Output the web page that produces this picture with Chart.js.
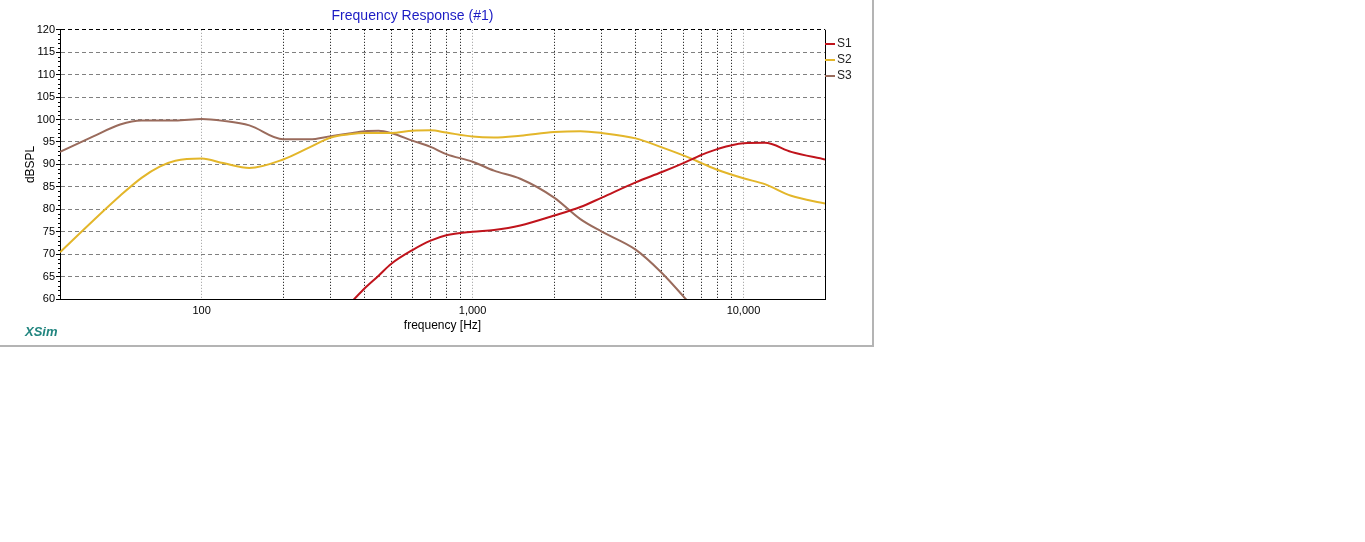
<!DOCTYPE html>
<html>
<head>
<meta charset="utf-8">
<title>Frequency Response (#1)</title>
<script src="https://cdn.jsdelivr.net/npm/chart.js@4.4.1/dist/chart.umd.min.js"></script>
<style>
  html, body { margin: 0; padding: 0; background: #fff; }
  #wrap {
    position: relative;
    width: 872px; height: 345px;
    border-right: 2px solid #b4b4b4;
    border-bottom: 2px solid #b4b4b4;
  }
</style>
</head>
<body>
<div id="wrap"><canvas id="fr"></canvas></div>
<script>
const freqs = [30, 40, 50, 60, 70, 80, 100, 120, 150, 200, 250, 300, 350, 400, 450, 500,
  600, 700, 800, 1000, 1200, 1500, 2000, 2500, 3000, 4000, 5000, 6000, 7000, 8000,
  10000, 12000, 15000, 20000];

// dB SPL per series (null = not drawn there)
const s1 = [null, null, null, null, null, null, null, null, null, null, null, 55.0, 58.8, 62.4, 65.2, 67.8,
  70.9, 73.0, 74.2, 75.0, 75.4, 76.4, 78.6, 80.5, 82.6, 86.0, 88.3, 90.3, 92.1, 93.4,
  94.7, 94.8, 92.8, 91.1];
const s2 = [70.4, 77.6, 83.0, 87.0, 89.5, 90.8, 91.3, 90.3, 89.2, 91.1, 93.8, 96.0, 96.7, 97.0, 97.0, 97.0,
  97.5, 97.6, 97.1, 96.2, 96.0, 96.4, 97.2, 97.4, 97.0, 95.8, 93.8, 92.0, 90.3, 88.8,
  86.9, 85.6, 83.0, 81.3];
const s3 = [92.8, 96.3, 98.9, 99.8, 99.8, 99.8, 100.1, 99.7, 98.7, 95.6, 95.6, 96.3, 96.9, 97.4, 97.5, 97.0,
  95.3, 93.9, 92.3, 90.6, 88.6, 86.8, 82.6, 77.8, 75.0, 71.0, 65.8, 60.6, 56.0, null,
  null, null, null, null];

const seriesNames = ["S1", "S2", "S3"];
const seriesColors = ["#c0141c", "#e3b62a", "#9a6b5c"];

// x grid lines and labels
const xGridTicks = [100, 200, 300, 400, 500, 600, 700, 800, 900, 1000,
  2000, 3000, 4000, 5000, 6000, 7000, 8000, 9000, 10000];
const xLabelTicks = [100, 1000, 10000];

const FONT = "'Liberation Sans', Arial, sans-serif";
Chart.defaults.font.family = FONT;
Chart.defaults.color = "#000";

function toPoints(vals) {
  return freqs.map((f, i) => ({ x: f, y: vals[i] }));
}

// legend on the right, minor y ticks, right border and the XSim mark
const extras = {
  id: "extras",
  afterDraw(chart) {
    const { ctx, chartArea } = chart;
    const yScale = chart.scales.y;
    ctx.save();

    ctx.strokeStyle = "#000";
    ctx.lineWidth = 1;
    ctx.beginPath();
    ctx.moveTo(chartArea.right + 0.5, chartArea.top);
    ctx.lineTo(chartArea.right + 0.5, chartArea.bottom);
    ctx.stroke();

    for (let v = 60; v <= 120; v++) {
      if (v % 5 === 0) continue;
      const y = Math.round(yScale.getPixelForValue(v)) + 0.5;
      ctx.beginPath();
      ctx.moveTo(chartArea.left - 2, y);
      ctx.lineTo(chartArea.left, y);
      ctx.stroke();
    }

    ctx.font = "12px " + FONT;
    ctx.textBaseline = "middle";
    ctx.textAlign = "left";
    chart.data.datasets.forEach((ds, i) => {
      const y = 44 + i * 16;
      ctx.strokeStyle = ds.borderColor;
      ctx.lineWidth = 2;
      ctx.beginPath();
      ctx.moveTo(chartArea.right, y);
      ctx.lineTo(chartArea.right + 10, y);
      ctx.stroke();
      ctx.fillStyle = "#222";
      ctx.fillText(ds.label, chartArea.right + 12, y);
    });

    ctx.font = "bold italic 13px " + FONT;
    ctx.fillStyle = "#21857f";
    ctx.textBaseline = "alphabetic";
    ctx.fillText("XSim", 25, 336);
    ctx.restore();
  }
};

new Chart(document.getElementById("fr"), {
  type: "line",
  data: {
    datasets: [s1, s2, s3].map((vals, i) => ({
      label: seriesNames[i],
      data: toPoints(vals),
      borderColor: seriesColors[i],
      backgroundColor: seriesColors[i],
      borderWidth: 2,
      pointRadius: 0,
      cubicInterpolationMode: "monotone",
      spanGaps: false
    }))
  },
  options: {
    responsive: true,
    maintainAspectRatio: false,
    animation: false,
    layout: { padding: { left: 0, right: 47, top: 0, bottom: 0 } },
    plugins: {
      legend: { display: false },
      tooltip: { enabled: false },
      title: {
        display: true,
        text: "Frequency Response (#1)",
        color: "#1c1cc4",
        font: { size: 14, weight: "normal" },
        padding: { top: 8, bottom: 5 }
      }
    },
    scales: {
      x: {
        type: "logarithmic",
        min: 30,
        max: 20000,
        afterBuildTicks: (scale) => { scale.ticks = xGridTicks.map(v => ({ value: v })); },
        afterFit: (scale) => { scale.height = 46; },
        ticks: {
          autoSkip: false,
          maxRotation: 0,
          padding: 5,
          font: { size: 11 },
          callback: (v) => xLabelTicks.includes(v) ? v.toLocaleString("en-US") : ""
        },
        grid: {
          drawTicks: false,
          color: (c) => (c.tick && xLabelTicks.includes(c.tick.value)) ? "#9a9a9a" : "#000"
        },
        border: { display: true, color: "#000", width: 1, dash: [1, 2] },
        title: {
          display: true,
          text: "frequency [Hz]",
          font: { size: 12 },
          padding: { top: 0, bottom: 12 }
        }
      },
      y: {
        min: 60,
        max: 120,
        afterFit: (scale) => { scale.width = 60; },
        ticks: { stepSize: 5, padding: 1, font: { size: 11 } },
        grid: {
          tickLength: 4,
          tickColor: "#000",
          color: (c) => (c.tick && c.tick.value === 120) ? "#000" : "#808080"
        },
        border: { display: true, color: "#000", width: 1, dash: [4, 3] },
        title: {
          display: true,
          text: "dBSPL",
          font: { size: 12 },
          padding: { top: 23, bottom: 0 }
        }
      }
    }
  },
  plugins: [extras]
});
</script>
</body>
</html>
